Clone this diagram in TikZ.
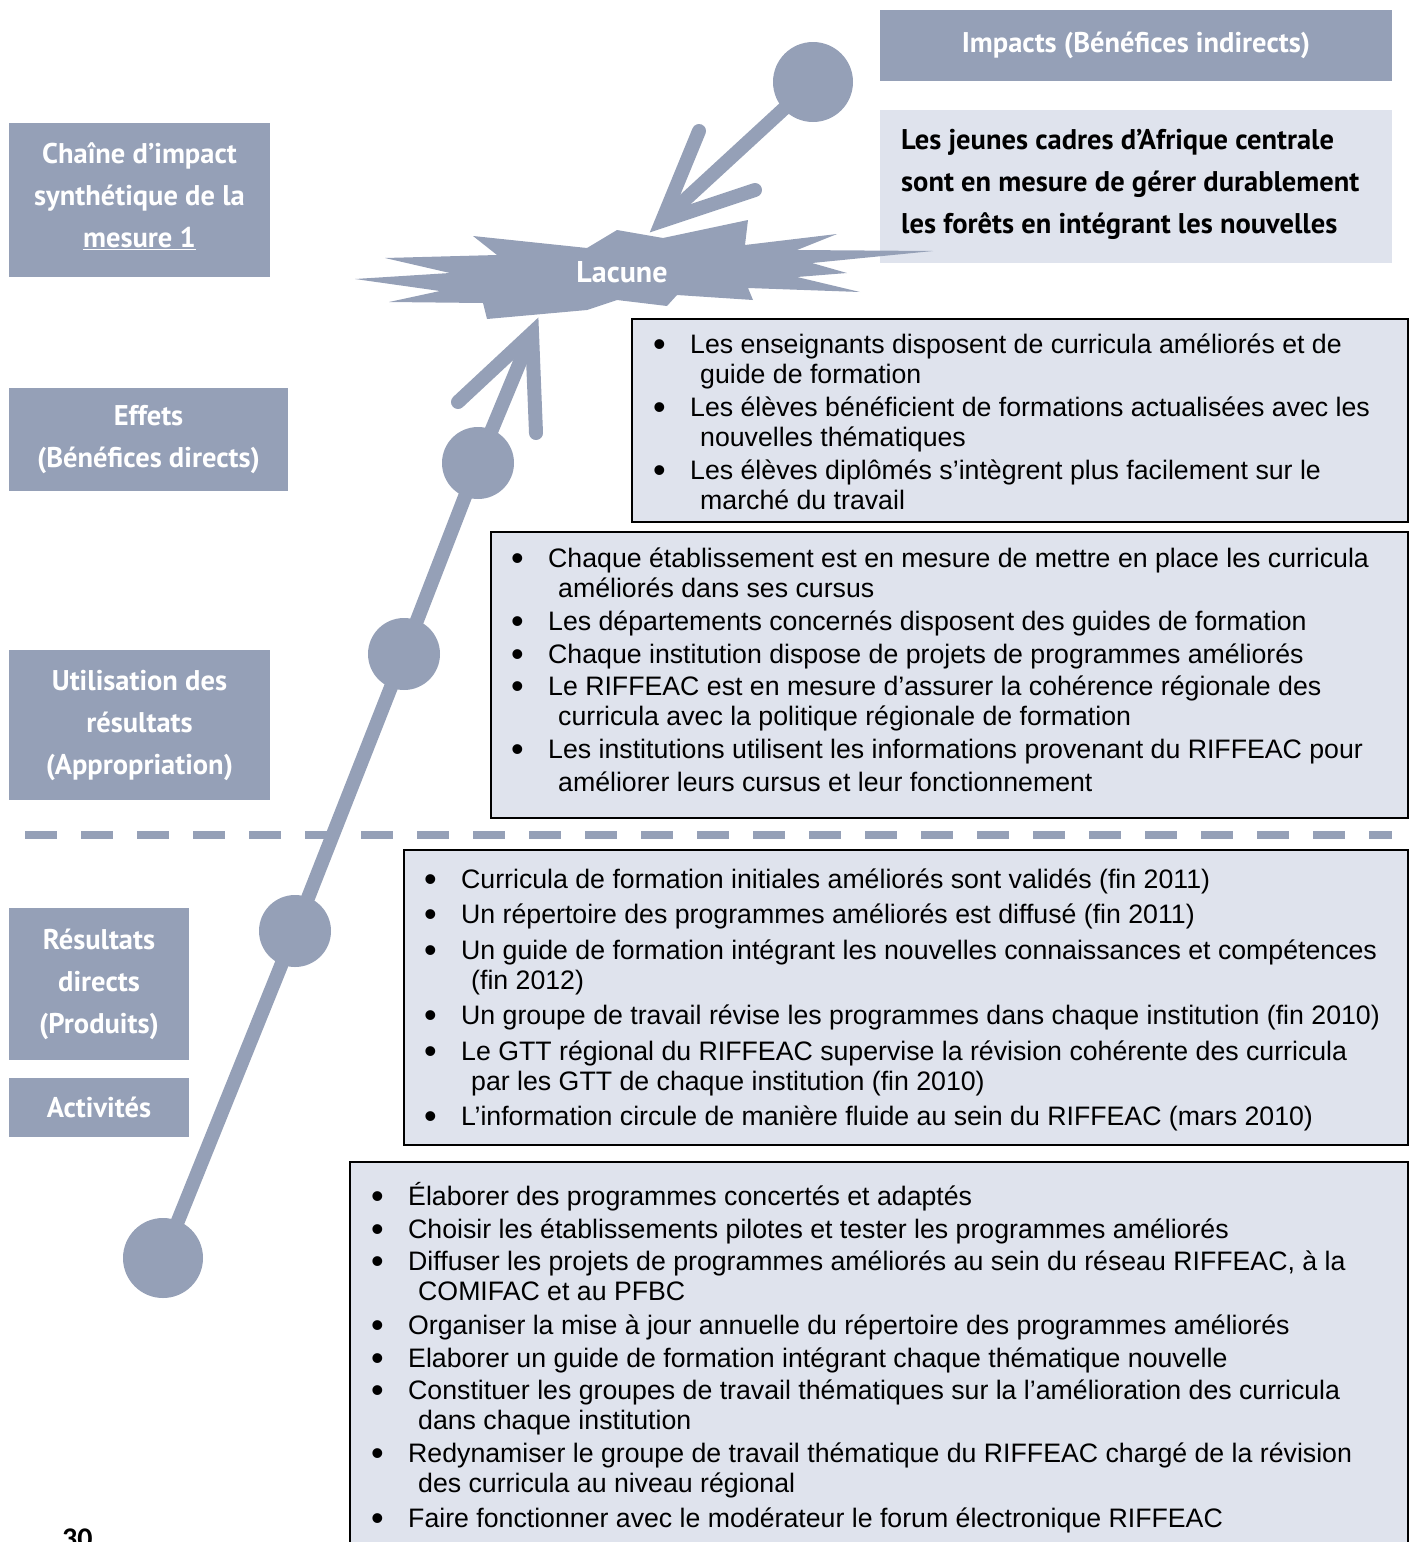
\documentclass[tikz,border=0pt]{standalone}
\usepackage{fontspec}
\setmainfont{Liberation Sans}
\newfontfamily\headfont{PT Sans}
\newfontfamily\numfont{Carlito}
\usetikzlibrary{positioning}

\definecolor{chainblue}{RGB}{149,160,183}
\definecolor{listfill}{RGB}{223,227,237}

% bullet and hanging indent for the lists
\newcommand\bul{\makebox[37pt][l]{\raisebox{-3pt}{\fontsize{36}{30}\selectfont\textbullet}}}
\newcommand\cnt{\hspace*{47pt}}

\begin{document}
\begin{tikzpicture}[x=1pt,y=-1pt,
    head/.style={fill=chainblue,text=white,align=center,inner sep=0pt,
      font=\headfont\bfseries\fontsize{28.5}{42}\selectfont},
    listbox/.style={fill=listfill,draw=black,line width=2.2pt,anchor=north west,inner sep=0pt},
    listtext/.style={anchor=north west,inner sep=0pt,align=left,
      font=\fontsize{26.7}{30}\selectfont},
    knot/.style={circle,fill=chainblue,inner sep=0pt},
    chain/.style={draw=chainblue,line width=14pt},
    tipline/.style={chain,line cap=round,line join=miter}]
  \useasboundingbox (0,0) rectangle (1412,1542);

  % left column: levels of the chain
  \begin{scope}[every node/.style={head}]
    \node[minimum width=261,minimum height=154] (chaine) at (139.5,200)
      {Chaîne d’impact\\synthétique de la\\\smash{\underline{mesure 1}}\rule[-10pt]{0pt}{10pt}};
    \node[minimum width=279,minimum height=103] (effets) at (148.5,439.5)
      {Effets\\(Bénéfices directs)};
    \node[minimum width=261,minimum height=150] (utilisation) at (139.5,725)
      {Utilisation des\\résultats\\(Appropriation)};
    \node[minimum width=180,minimum height=152] (produits) at (99,984)
      {Résultats\\directs\\(Produits)};
    \node[minimum width=180,minimum height=59] (activites) at (99,1107.5)
      {Activités};
    \node[minimum width=512,minimum height=71] (impacts) at (1136,45.5)
      {Impacts (Bénéfices indirects)};
  \end{scope}

  % impact statement
  \node[fill=listfill,minimum width=512,minimum height=153,anchor=north west,inner sep=0pt]
    (impactbox) at (880,110) {};
  \node[anchor=north west,inner sep=0pt,align=left,
      font=\headfont\bfseries\fontsize{28.5}{42}\selectfont] (impacttext) at (901,120)
    {\strut Les jeunes cadres d’Afrique centrale\\
     sont en mesure de gérer durablement\\
     les forêts en intégrant les nouvelles};

  % the gap
  \fill[chainblue] (355,279) -- (450,273) -- (385,258) -- (497,255) -- (473,236)
    -- (587,248) -- (617,230) -- (663,238) -- (748,220) -- (745,245) -- (837,234)
    -- (797,250) -- (933,251) -- (812,263) -- (847,273) -- (797,277) -- (860,292)
    -- (748,288) -- (753,300) -- (677,295) -- (667,306) -- (617,300) -- (587,310)
    -- (487,319) -- (483,303) -- (389,302) -- (440,291) -- cycle;
  \node[text=white,font=\headfont\bfseries\fontsize{30}{30}\selectfont] (lacune) at (622,272) {Lacune};

  % lists
  \node[listbox,minimum width=776,minimum height=203] (effetsbox) at (631,318) {};
  \node[listtext] (effetslist) at (653,332.5)
    {\strut\bul Les enseignants disposent de curricula améliorés et de\\
     \cnt guide de formation\\[3pt]
     \bul Les élèves bénéficient de formations actualisées avec les\\
     \cnt nouvelles thématiques\\[3pt]
     \bul Les élèves diplômés s’intègrent plus facilement sur le\\
     \cnt marché du travail};

  \node[listbox,minimum width=917,minimum height=286] (utilbox) at (490,531) {};
  \node[listtext] (utillist) at (511,546.5)
    {\strut\bul Chaque établissement est en mesure de mettre en place les curricula\\
     \cnt améliorés dans ses cursus\\[3pt]
     \bul Les départements concernés disposent des guides de formation\\[3pt]
     \bul Chaque institution dispose de projets de programmes améliorés\\[2pt]
     \bul Le RIFFEAC est en mesure d’assurer la cohérence régionale des\\
     \cnt curricula avec la politique régionale de formation\\[3pt]
     \bul Les institutions utilisent les informations provenant du RIFFEAC pour\\[3pt]
     \cnt améliorer leurs cursus et leur fonctionnement};

  \node[listbox,minimum width=1004,minimum height=295] (prodbox) at (403,849) {};
  \node[listtext] (prodlist) at (424,867.5)
    {\strut\bul Curricula de formation initiales améliorés sont validés (fin 2011)\\[5pt]
     \bul Un répertoire des programmes améliorés est diffusé (fin 2011)\\[6pt]
     \bul Un guide de formation intégrant les nouvelles connaissances et compétences\\
     \cnt (fin 2012)\\[5pt]
     \bul Un groupe de travail révise les programmes dans chaque institution (fin 2010)\\[6pt]
     \bul Le GTT régional du RIFFEAC supervise la révision cohérente des curricula\\
     \cnt par les GTT de chaque institution (fin 2010)\\[5pt]
     \bul L’information circule de manière fluide au sein du RIFFEAC (mars 2010)};

  \node[listbox,minimum width=1058,minimum height=400] (actbox) at (349,1161) {};
  \node[listtext] (actlist) at (371,1182.5)
    {\strut\bul Élaborer des programmes concertés et adaptés\\[3pt]
     \bul Choisir les établissements pilotes et tester les programmes améliorés\\[2pt]
     \bul Diffuser les projets de programmes améliorés au sein du réseau RIFFEAC, à la\\
     \cnt COMIFAC et au PFBC\\[4pt]
     \bul Organiser la mise à jour annuelle du répertoire des programmes améliorés\\[3pt]
     \bul Elaborer un guide de formation intégrant chaque thématique nouvelle\\[2pt]
     \bul Constituer les groupes de travail thématiques sur la l’amélioration des curricula\\
     \cnt dans chaque institution\\[3pt]
     \bul Redynamiser le groupe de travail thématique du RIFFEAC chargé de la révision\\
     \cnt des curricula au niveau régional\\[5pt]
     \bul Faire fonctionner avec le modérateur le forum électronique RIFFEAC};

  % separation between results and effects
  \coordinate (sepleft) at (25,835);
  \coordinate (sepright) at (1392,835);
  \draw[draw=chainblue,line width=8pt,dash pattern=on 32pt off 24pt] (sepleft) -- (sepright);

  % the chain
  \node[knot,minimum size=80] (actknot) at (163,1258) {};
  \node[knot,minimum size=72] (prodknot) at (295,931) {};
  \node[knot,minimum size=72] (utilknot) at (404,654) {};
  \node[knot,minimum size=72] (effetsknot) at (478,463) {};
  \coordinate (gaptip) at (532,333);
  \coordinate (gapleft) at (458,402);
  \coordinate (gapright) at (536,433);
  \draw[chain] (actknot.center) -- (prodknot.center) -- (utilknot.center) -- (effetsknot.center);
  \draw[chain,shorten >=12pt] (effetsknot.center) -- (gaptip);
  \draw[tipline] (gapleft) -- (gaptip) -- (gapright);

  \node[knot,minimum size=80] (impactknot) at (813,82) {};
  \coordinate (impacttip) at (662,221);
  \coordinate (impactleft) at (699,131);
  \coordinate (impactright) at (755,190);
  \draw[chain,shorten >=12pt] (impactknot.center) -- (impacttip);
  \draw[tipline] (impactleft) -- (impacttip) -- (impactright);

  % page number
  \node[anchor=base west,inner sep=0pt,font=\numfont\bfseries\fontsize{30}{30}\selectfont]
    (pagenum) at (62,1548) {30};
\end{tikzpicture}
\end{document}
